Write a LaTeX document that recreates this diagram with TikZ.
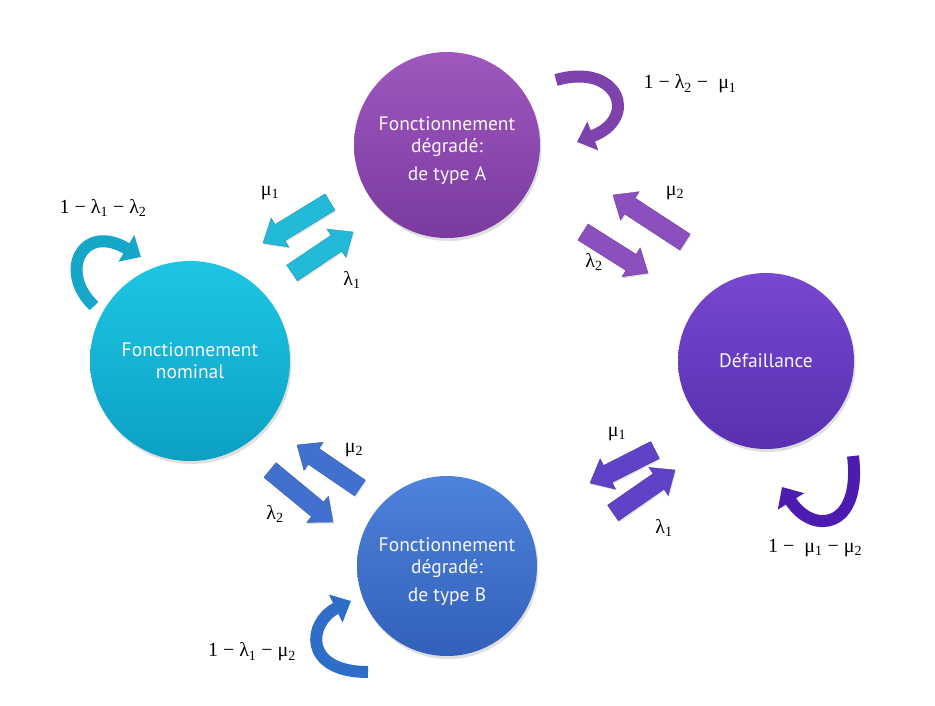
\documentclass[tikz,border=0pt]{standalone}
\usepackage{fontspec}
\setmainfont{PT Sans}
\newfontfamily\lblfont{Liberation Serif}
\usetikzlibrary{arrows.meta,calc,shadows}

\definecolor{nomTop}{RGB}{30,198,228}
\definecolor{nomBot}{RGB}{12,160,196}
\definecolor{aTop}{RGB}{158,88,190}
\definecolor{aBot}{RGB}{122,58,160}
\definecolor{dTop}{RGB}{118,72,208}
\definecolor{dBot}{RGB}{88,48,176}
\definecolor{bTop}{RGB}{78,130,220}
\definecolor{bBot}{RGB}{50,96,186}
\definecolor{arrNA}{RGB}{34,186,216}
\definecolor{arrAD}{RGB}{140,80,190}
\definecolor{arrNB}{RGB}{66,112,206}
\definecolor{arrBD}{RGB}{96,66,200}
\definecolor{loopN}{RGB}{22,166,200}
\definecolor{loopA}{RGB}{126,66,172}
\definecolor{loopD}{RGB}{76,28,176}
\definecolor{loopB}{RGB}{46,110,200}

\newcommand\blockarrow[3]{%
  \coordinate (hb) at ($(#2)!20pt!(#1)$);
  \fill[#3, draw=#3!80!black, line width=0.4pt,
        drop shadow={opacity=0.25,shadow xshift=1pt,shadow yshift=-1.5pt}]
    ($(#1)!9.5pt!90:(#2)$) -- ($(hb)!9.5pt!90:(#2)$) -- ($(hb)!17pt!90:(#2)$)
    -- (#2) -- ($(hb)!17pt!-90:(#2)$) -- ($(hb)!9.5pt!-90:(#2)$)
    -- ($(#1)!9.5pt!-90:(#2)$) -- cycle;
}

\begin{document}
\begin{tikzpicture}[x=1pt,y=-1pt,
  st/.style={circle, inner sep=0pt, align=center, text=white!94!gray,
    font=\fontsize{19.5}{22}\selectfont,
    drop shadow={opacity=0.25,shadow xshift=1.5pt,shadow yshift=-3pt}},
  stxt/.style={inner sep=0pt, align=center, text=white!94!gray,
    font=\fontsize{19.5}{22}\selectfont, yshift=-6pt},
  lbl/.style={inner sep=1pt, font=\lblfont\fontsize{20}{23}\selectfont},
  loopar/.style={line width=12pt, -{Triangle[length=17pt,width=30pt]}}
]
\useasboundingbox (0,0) rectangle (935,705);
\fill[white] (0,0) rectangle (935,705);

% states
\node[st, minimum size=186pt, top color=aTop, bottom color=aBot,
  label={[stxt]center:{Fonctionnement\\dégradé:\\[6pt]de type A}}] (A) at (447,145) {};
\node[st, minimum size=200pt, top color=nomTop, bottom color=nomBot] (N) at (190,361)
  {Fonctionnement\\nominal};
\node[st, minimum size=176pt, top color=dTop, bottom color=dBot] (D) at (766,361)
  {Défaillance};
\node[st, minimum size=180pt, top color=bTop, bottom color=bBot,
  label={[stxt]center:{Fonctionnement\\dégradé:\\[6pt]de type B}}] (B) at (447,566) {};

% block arrow end points
\coordinate (naT1) at (330,202); \coordinate (naH1) at (263,243);
\coordinate (naT2) at (292,273); \coordinate (naH2) at (353,232);
\coordinate (adT1) at (685,242); \coordinate (adH1) at (613,195);
\coordinate (adT2) at (583,232); \coordinate (adH2) at (648,273);
\coordinate (nbT1) at (360,488); \coordinate (nbH1) at (297,445);
\coordinate (nbT2) at (270,470); \coordinate (nbH2) at (333,522);
\coordinate (bdT1) at (655,450); \coordinate (bdH1) at (590,483);
\coordinate (bdT2) at (613,513); \coordinate (bdH2) at (675,470);

\blockarrow{naT1}{naH1}{arrNA}
\blockarrow{naT2}{naH2}{arrNA}
\blockarrow{adT1}{adH1}{arrAD}
\blockarrow{adT2}{adH2}{arrAD}
\blockarrow{nbT1}{nbH1}{arrNB}
\blockarrow{nbT2}{nbH2}{arrNB}
\blockarrow{bdT1}{bdH1}{arrBD}
\blockarrow{bdT2}{bdH2}{arrBD}

% transition labels
\node[lbl] (m1a) at (270,193) {μ\textsubscript{1}};
\node[lbl] (l1a) at (352,280) {λ\textsubscript{1}};
\node[lbl] (m2a) at (675,193) {μ\textsubscript{2}};
\node[lbl] (l2a) at (594,262) {λ\textsubscript{2}};
\node[lbl] (m2b) at (354,450) {μ\textsubscript{2}};
\node[lbl] (l2b) at (275,514) {λ\textsubscript{2}};
\node[lbl] (m1b) at (617,434) {μ\textsubscript{1}};
\node[lbl] (l1b) at (664,528) {λ\textsubscript{1}};

% self loops
\coordinate (sN) at (94,306); \coordinate (eN) at (141,257);
\draw[loopar, loopN] (sN) .. controls (58,272) and (82,222) .. (eN);
\coordinate (sA) at (556,80); \coordinate (eA) at (577,142);
\draw[loopar, loopA] (sA) .. controls (618,62) and (640,118) .. (eA);
\coordinate (sD) at (853,456); \coordinate (eD) at (782,487);
\draw[loopar, loopD] (sD) .. controls (862,530) and (812,535) .. (eD);
\coordinate (sB) at (368,672); \coordinate (eB) at (351,601);
\draw[loopar, loopB] (sB) .. controls (302,672) and (308,622) .. (eB);

% loop labels
\node[lbl] (pN) at (103,208) {1 − λ\textsubscript{1} − λ\textsubscript{2}};
\node[lbl] (pA) at (690,84) {1 − λ\textsubscript{2} −\ \ μ\textsubscript{1}};
\node[lbl] (pD) at (815,548) {1 −\ \ μ\textsubscript{1} − μ\textsubscript{2}};
\node[lbl] (pB) at (252,652) {1 − λ\textsubscript{1} − μ\textsubscript{2}};
\end{tikzpicture}
\end{document}
